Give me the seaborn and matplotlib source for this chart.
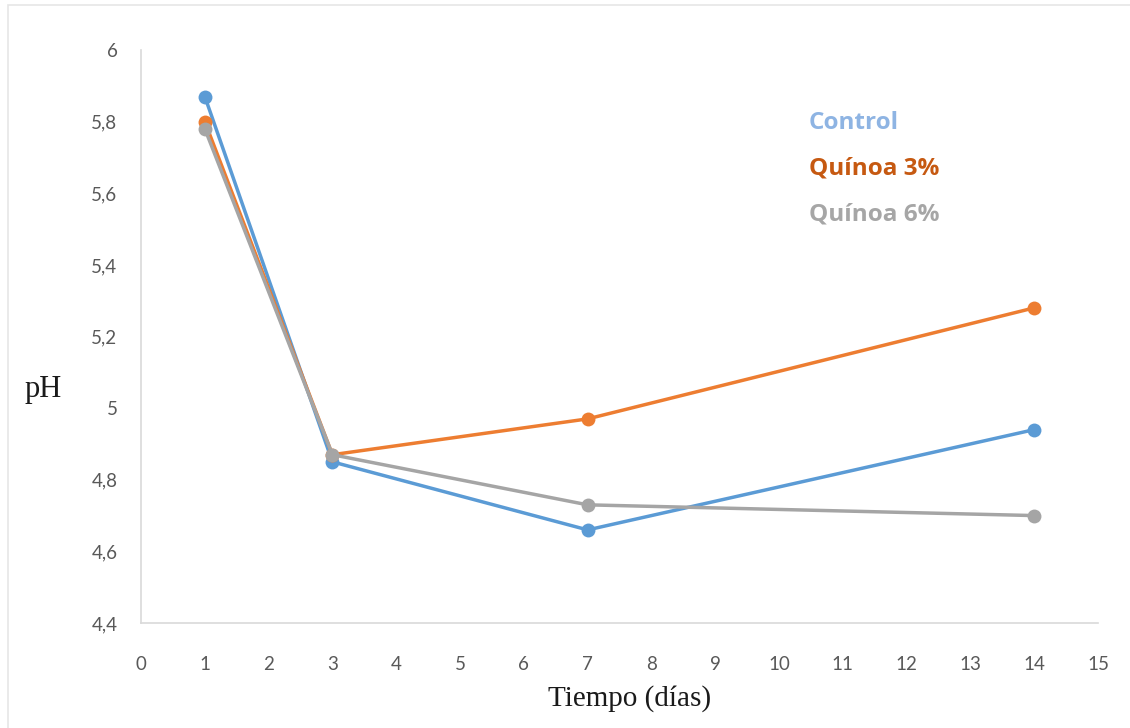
import numpy as np
import pandas as pd
import matplotlib.pyplot as plt
import seaborn as sns
from matplotlib.patches import Rectangle

dias = [1, 3, 7, 14]
control = [5.87, 4.85, 4.66, 4.94]
quinoa_3 = [5.80, 4.87, 4.97, 5.28]
quinoa_6 = [5.78, 4.87, 4.73, 4.70]
series = ['Control', 'Quínoa 3%', 'Quínoa 6%']
line_colors = ['#5B9BD5', '#ED7D31', '#A5A5A5']
text_colors = ['#8EB4E3', '#C65911', '#A6A6A6']

df = pd.DataFrame({
    'dias': dias * 3,
    'ph': control + quinoa_3 + quinoa_6,
    'serie': [s for s in series for _ in dias],
})

sns.set_style('white')
plt.rcParams['font.family'] = ['Lato', 'DejaVu Sans']

fig = plt.figure(figsize=(11.3, 7.28), dpi=100)
ax = fig.add_axes([0.1248, 0.1442, 0.8469, 0.7871])

sns.lineplot(data=df, x='dias', y='ph', hue='serie', palette=line_colors,
             marker='o', markersize=10, markeredgewidth=0, linewidth=2.5,
             legend=False, ax=ax)

ax.set_xlim(0, 15)
ax.set_ylim(4.4, 6)
ax.set_xticks(range(0, 16))
yt = np.round(np.arange(4.4, 6.01, 0.2), 1)
ax.set_yticks(yt)
ax.set_yticklabels([f'{v:g}'.replace('.', ',') for v in yt])
ax.tick_params(axis='both', length=0, labelsize=13.5, labelcolor='#595959')
ax.tick_params(axis='x', pad=24)
ax.tick_params(axis='y', pad=17)

for s in ['top', 'right']:
    ax.spines[s].set_visible(False)
for s in ['left', 'bottom']:
    ax.spines[s].set_color('#D9D9D9')
    ax.spines[s].set_linewidth(1.2)

ax.set_xlabel('')
ax.set_ylabel('')
fig.text(0.557, 0.03, 'Tiempo (días)', family='Liberation Serif', fontsize=21,
         ha='center', va='baseline', color='#1a1a1a')
fig.text(0.022, 0.455, 'pH', family='Liberation Serif', fontsize=22,
         ha='left', va='baseline', color='#1a1a1a')

# legend as coloured text
for i, (name, col) in enumerate(zip(series, text_colors)):
    fig.text(0.716, 0.831 - i * 0.0625, name, color=col, fontsize=17.5,
             fontweight='bold', family=['Open Sans', 'DejaVu Sans'], va='center')

fig.patches.append(Rectangle((0.007, -0.1), 1.1, 1.093, transform=fig.transFigure,
                             fill=False, edgecolor='#E6E6E6', linewidth=1.2))

fig.savefig('out.png', dpi=100)
